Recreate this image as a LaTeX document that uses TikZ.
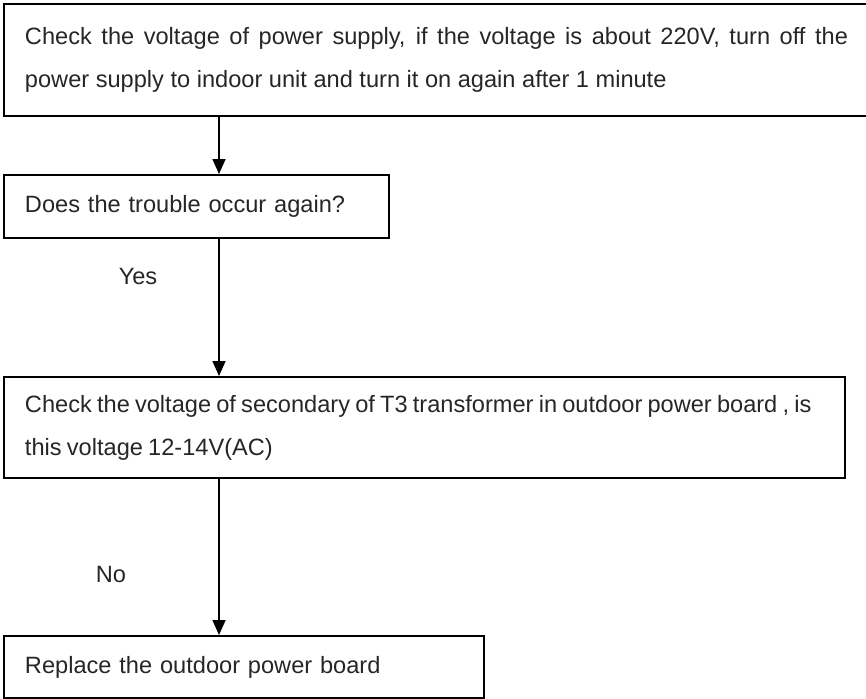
\documentclass[tikz,border=0pt]{standalone}
\usepackage{fontspec}
\setmainfont{Liberation Sans}
\usetikzlibrary{arrows.meta,positioning}

\begin{document}
\begin{tikzpicture}[
  x=0.5pt, y=-0.5pt,
  box/.style={draw, line width=1pt, anchor=north west, inner xsep=10.5pt, inner ysep=0pt,
    font=\fontsize{11.8pt}{21.5pt}\selectfont, text=black!85},
  arr/.style={-{Triangle[length=7.5pt,width=6.5pt]}, line width=0.8pt},
  lbl/.style={font=\fontsize{11.8pt}{13pt}\selectfont, text=black!85}
]
  \useasboundingbox (0,0) rectangle (866,698);

  \node[box, minimum width=431pt, minimum height=56pt, text width=411.5pt, align=justify] (check) at (3,3)
    {Check the voltage of power supply, if the voltage is about 220V, turn off the\linebreak
     power supply to indoor unit and turn it on again after 1 minute};
  \node[box, minimum width=192.5pt, minimum height=31.5pt, text width=171.5pt, align=left] (again) at (3,174)
    {Does the trouble occur again?};
  \node[box, minimum width=420.5pt, minimum height=50.5pt, text width=399.5pt, align=left] (trans) at (3,376)
    {\spaceskip=2.6pt\relax Check the voltage of secondary of T3 transformer in outdoor power board , is\\
     this voltage 12-14V(AC)};
  \node[box, minimum width=240pt, minimum height=31pt, text width=219pt, align=left] (board) at (3,635)
    {Replace the outdoor power board};

  \coordinate (ax) at (219,0);
  \node[lbl] (yes) at (138,276) {Yes};
  \node[lbl] (no) at (111,574) {No};

  \draw[arr] (check.south -| ax) -- (again.north -| ax);
  \draw[arr] (again.south -| ax) -- (trans.north -| ax);
  \draw[arr] (trans.south -| ax) -- (board.north -| ax);
\end{tikzpicture}
\end{document}
